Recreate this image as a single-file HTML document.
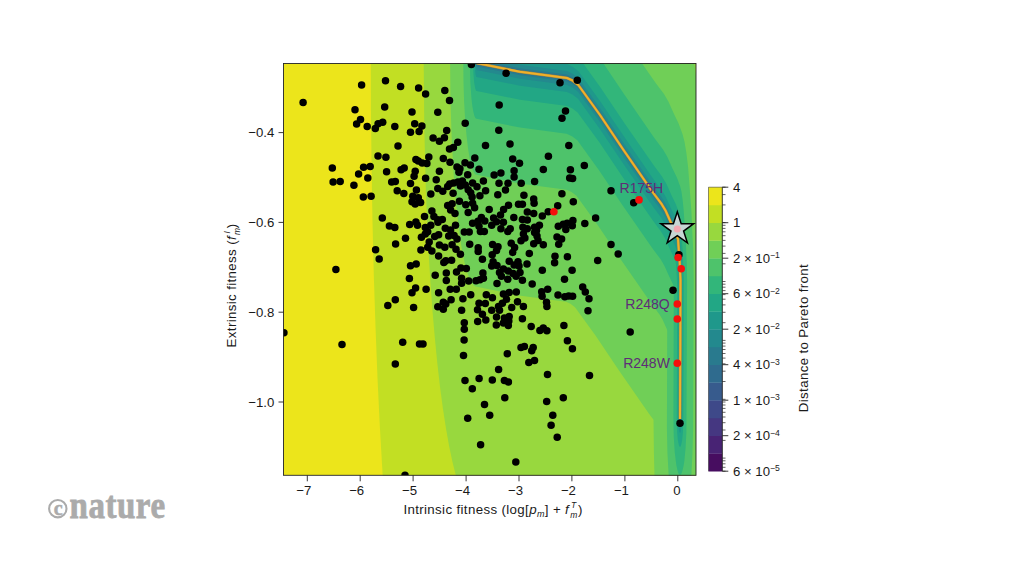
<!DOCTYPE html><html><head><meta charset="utf-8"><title>Pareto front</title>
<style>html,body{margin:0;padding:0;background:#fff}body{width:1024px;height:576px;overflow:hidden}svg{display:block}text{font-family:"Liberation Sans",sans-serif;fill:#1a1a1a}.t{font-size:13.2px}.lab{font-size:14px;fill:#5e2d78;letter-spacing:0px}</style></head><body>
<svg width="1024" height="576" viewBox="0 0 1024 576">
<rect width="1024" height="576" fill="#fff"/>
<defs><clipPath id="c"><rect x="283.5" y="63.5" width="412.5" height="411.8"/></clipPath></defs>
<g clip-path="url(#c)">
<rect x="283.5" y="63.5" width="412.5" height="411.8" fill="#ece51b"/>
<path d="M370.8,62.5 697.0,62.5 697.0,476.0 382.7,476.0 379.9,427.5 377.5,378.0 375.5,326.5 373.8,275.0 372.5,222.0 371.6,169.5 371.0,116.0 370.8,62.5Z" fill="#c2df23" fill-rule="evenodd"/>
<path d="M423.7,62.5 697.0,62.5 697.0,476.0 456.0,476.0 452.5,462.1 449.1,446.0 446.0,428.5 442.9,408.5 440.0,386.7 437.3,363.0 434.8,337.5 432.5,311.0 430.5,283.5 428.7,253.5 427.2,223.5 425.9,192.0 424.3,128.0 423.7,62.5Z" fill="#98d83e" fill-rule="evenodd"/>
<path d="M450.1,62.5 694.2,62.5 697.0,83.9 697.0,476.0 654.5,476.0 653.9,452.5 653.5,419.8 649.0,413.8 619.0,370.5 595.5,335.5 575.0,307.2 570.5,303.7 566.0,301.7 519.0,295.4 475.5,286.6 473.5,285.3 471.5,282.7 469.2,278.0 467.0,271.7 465.0,264.4 463.0,255.2 461.1,244.5 459.4,233.0 456.2,205.5 453.6,174.0 451.7,138.5 450.5,101.5 450.1,62.5Z" fill="#70cf57" fill-rule="evenodd"/>
<path d="M463.3,62.5 641.4,62.5 655.5,82.8 664.0,94.1 668.5,101.7 674.0,114.0 678.6,123.5 682.5,134.0 684.5,141.8 686.4,153.0 688.1,167.0 691.4,211.0 693.2,250.0 693.7,280.0 693.1,430.0 692.5,453.5 691.3,476.0 668.7,476.0 667.4,452.5 666.9,428.5 667.2,331.0 667.0,329.5 662.5,319.5 659.5,314.4 651.0,303.1 621.5,260.5 598.0,225.5 576.5,195.8 571.5,192.0 566.5,189.7 519.5,183.5 476.5,174.8 475.5,174.4 474.5,173.5 473.1,171.0 472.0,168.0 470.0,160.2 468.1,149.0 466.5,135.5 465.1,119.5 464.1,101.5 463.5,82.5 463.3,62.5Z" fill="#4ec36b" fill-rule="evenodd"/>
<path d="M469.9,62.5 602.8,62.5 625.0,95.5 654.0,137.4 663.0,149.5 667.4,157.0 672.5,168.5 677.0,177.8 680.2,186.5 681.5,191.7 682.6,199.5 683.6,209.5 685.6,237.5 686.7,261.5 687.1,281.0 686.4,432.5 685.6,448.0 684.3,461.5 683.5,466.3 682.5,470.6 681.5,473.4 680.5,474.7 680.0,474.8 679.5,474.7 678.5,473.4 677.5,470.5 676.3,465.0 674.7,452.0 673.7,435.5 673.4,418.5 673.8,288.0 673.3,285.0 669.0,276.1 664.5,265.9 660.5,259.1 652.0,247.8 622.5,205.2 599.0,170.2 577.5,140.5 577.0,140.1 572.0,136.2 566.5,133.8 520.0,127.6 476.5,118.8 475.5,118.2 474.5,116.2 473.4,112.0 472.4,106.5 471.5,99.0 470.3,82.0 469.9,62.5Z" fill="#32b67a" fill-rule="evenodd"/>
<path d="M473.2,62.5 582.5,62.5 600.5,87.4 624.5,123.2 653.5,165.0 662.0,176.4 666.5,183.9 671.5,195.2 676.0,204.4 679.5,214.2 680.7,222.5 682.7,251.5 683.8,279.0 683.3,422.5 682.9,432.5 682.2,440.0 681.0,445.6 680.5,446.6 680.0,446.9 679.5,446.6 679.0,445.6 677.9,440.5 677.2,433.0 676.7,423.5 677.2,285.5 676.5,271.6 676.0,264.5 675.5,261.6 674.0,257.6 670.0,249.4 665.0,238.2 661.0,231.5 652.5,220.1 623.3,178.0 599.5,142.6 577.6,112.5 572.5,108.5 567.0,105.9 520.0,99.7 476.5,90.9 476.0,90.6 475.2,88.5 474.2,82.5 473.4,73.0 473.2,62.5Z" fill="#22a785" fill-rule="evenodd"/>
<path d="M474.8,62.5 555.1,62.5 567.0,64.1 573.0,66.9 578.5,71.2 600.0,100.9 624.0,136.6 653.5,179.2 662.0,190.5 666.0,197.2 671.0,208.5 675.5,217.7 678.6,226.0 679.3,231.0 681.2,256.5 682.2,279.5 681.7,419.5 681.1,429.0 680.5,432.3 680.0,432.9 679.5,432.3 678.9,429.5 678.4,420.5 678.8,283.0 678.0,265.6 677.0,251.8 676.6,250.0 674.5,244.3 670.2,235.5 665.5,224.8 661.5,218.1 653.0,206.7 623.8,164.5 599.5,128.4 578.0,98.8 572.5,94.5 567.0,91.9 520.0,85.7 476.5,76.9 476.0,76.3 475.3,72.5 474.8,62.5Z" fill="#1f988b" fill-rule="evenodd"/>
<path d="M475.6,62.5 508.4,62.5 520.0,64.8 567.0,71.0 573.0,73.9 578.5,78.2 600.0,108.0 624.0,143.7 653.5,186.2 661.9,197.5 666.0,204.4 671.0,215.7 675.1,224.0 678.4,233.0 680.4,258.5 681.4,280.5 680.9,419.5 680.6,424.0 680.0,426.0 679.4,424.0 679.1,419.5 679.6,281.5 678.9,265.5 677.3,244.5 674.5,237.1 670.5,228.9 665.5,217.7 661.5,211.0 653.0,199.6 623.8,157.5 600.0,122.1 578.0,91.8 572.5,87.5 567.0,85.0 520.0,78.8 476.5,70.0 475.9,67.5 475.6,62.5Z" fill="#23898e" fill-rule="evenodd"/>
<path d="M476.0,62.5 491.2,62.5 520.0,68.3 567.0,74.5 573.0,77.4 578.5,81.7 599.7,111.0 623.5,146.5 653.0,189.0 661.6,200.5 665.8,207.5 671.0,219.2 675.0,227.5 678.0,235.4 678.4,238.0 679.9,257.5 681.0,280.0 680.5,419.0 680.0,422.5 679.5,419.0 680.0,279.5 679.0,259.5 677.5,241.3 675.0,234.6 670.3,225.0 665.5,214.1 661.5,207.5 653.3,196.5 623.8,154.0 600.0,118.5 578.0,88.3 572.5,84.0 567.0,81.5 520.0,75.3 477.5,66.7 476.5,66.5 476.1,64.5 476.0,62.5Z" fill="#297a8e" fill-rule="evenodd"/>
<path d="M476.2,62.5 482.6,62.5 520.0,70.1 567.0,76.2 572.5,78.7 578.0,83.0 599.8,113.0 624.0,149.0 653.5,191.5 661.7,202.5 665.9,209.5 670.5,219.9 675.3,230.0 677.8,236.5 678.5,239.0 678.0,242.3 677.5,239.5 675.0,232.8 670.7,224.0 666.0,213.4 662.0,206.5 652.7,194.0 623.6,152.0 600.0,116.8 578.0,86.5 572.5,82.3 567.0,79.8 520.0,73.5 476.5,64.8 476.0,63.0 476.2,62.5ZM678.3,243.0 678.5,242.6 678.9,246.0 678.5,249.2 678.1,246.0 678.3,243.0ZM678.8,250.0 679.0,249.5 679.4,253.0 679.0,256.1 678.6,253.0 678.8,250.0ZM679.4,256.5 679.9,259.5 679.5,263.1 679.1,259.5 679.4,256.5ZM679.9,264.5 680.4,269.0 680.0,273.9 679.6,269.0 679.9,264.5ZM680.4,275.5 681.0,280.0 680.5,351.1 680.0,280.0 680.4,275.5ZM680.0,372.0 680.5,419.0 680.0,420.8 679.5,419.0 680.0,372.0Z" fill="#2f6b8e" fill-rule="evenodd"/>
<path d="M476.5,63.0 L520,71.8 L567,78 L572.5,80.5 L578.3,85 L600,115 L623.5,150 L653.3,193 L661.7,204.2 L665.8,211.1 L670.7,222.2 L675,231 L678,239 L679.7,262.5 L680.5,280 L680.3,350 L680,419" fill="none" stroke="#a08a3c" stroke-width="2.9" stroke-linejoin="round" stroke-linecap="butt"/>
<path d="M476.5,63.0 L520,71.8 L567,78 L572.5,80.5 L578.3,85 L600,115 L623.5,150 L653.3,193 L661.7,204.2 L665.8,211.1 L670.7,222.2 L675,231 L678,239 L679.7,262.5 L680.5,280 L680.3,350 L680,419" fill="none" stroke="#f0b02a" stroke-width="2.0" stroke-linejoin="round" stroke-linecap="butt"/>
<g fill="#000">
<circle cx="303.1" cy="102.5" r="3.75"/>
<circle cx="361.6" cy="85.0" r="3.75"/>
<circle cx="385.5" cy="80.8" r="3.75"/>
<circle cx="400.6" cy="86.6" r="3.75"/>
<circle cx="418.6" cy="88.1" r="3.75"/>
<circle cx="425.6" cy="94.1" r="3.75"/>
<circle cx="355.0" cy="109.7" r="3.75"/>
<circle cx="384.7" cy="106.9" r="3.75"/>
<circle cx="412.0" cy="111.9" r="3.75"/>
<circle cx="437.8" cy="112.3" r="3.75"/>
<circle cx="360.5" cy="119.4" r="3.75"/>
<circle cx="356.6" cy="124.1" r="3.75"/>
<circle cx="367.2" cy="126.4" r="3.75"/>
<circle cx="382.7" cy="122.2" r="3.75"/>
<circle cx="378.1" cy="123.8" r="3.75"/>
<circle cx="375.3" cy="128.4" r="3.75"/>
<circle cx="394.8" cy="126.4" r="3.75"/>
<circle cx="414.7" cy="123.8" r="3.75"/>
<circle cx="421.9" cy="126.1" r="3.75"/>
<circle cx="419.1" cy="131.4" r="3.75"/>
<circle cx="410.5" cy="132.2" r="3.75"/>
<circle cx="433.1" cy="138.1" r="3.75"/>
<circle cx="439.4" cy="141.2" r="3.75"/>
<circle cx="398.0" cy="145.9" r="3.75"/>
<circle cx="378.0" cy="156.1" r="3.75"/>
<circle cx="385.9" cy="157.2" r="3.75"/>
<circle cx="332.3" cy="168.1" r="3.75"/>
<circle cx="363.6" cy="167.3" r="3.75"/>
<circle cx="370.2" cy="166.6" r="3.75"/>
<circle cx="358.6" cy="174.1" r="3.75"/>
<circle cx="367.8" cy="178.0" r="3.75"/>
<circle cx="333.1" cy="181.9" r="3.75"/>
<circle cx="340.2" cy="181.6" r="3.75"/>
<circle cx="353.9" cy="185.3" r="3.75"/>
<circle cx="363.3" cy="197.0" r="3.75"/>
<circle cx="371.1" cy="196.2" r="3.75"/>
<circle cx="386.6" cy="171.7" r="3.75"/>
<circle cx="401.1" cy="169.7" r="3.75"/>
<circle cx="404.2" cy="168.1" r="3.75"/>
<circle cx="428.8" cy="156.9" r="3.75"/>
<circle cx="415.9" cy="159.5" r="3.75"/>
<circle cx="418.3" cy="161.1" r="3.75"/>
<circle cx="422.2" cy="163.1" r="3.75"/>
<circle cx="426.9" cy="163.4" r="3.75"/>
<circle cx="415.2" cy="171.2" r="3.75"/>
<circle cx="414.1" cy="176.2" r="3.75"/>
<circle cx="425.6" cy="178.3" r="3.75"/>
<circle cx="436.2" cy="179.8" r="3.75"/>
<circle cx="439.4" cy="171.2" r="3.75"/>
<circle cx="391.7" cy="181.9" r="3.75"/>
<circle cx="395.3" cy="181.4" r="3.75"/>
<circle cx="410.5" cy="183.4" r="3.75"/>
<circle cx="397.2" cy="190.8" r="3.75"/>
<circle cx="403.8" cy="193.6" r="3.75"/>
<circle cx="416.4" cy="190.0" r="3.75"/>
<circle cx="430.8" cy="193.9" r="3.75"/>
<circle cx="437.8" cy="188.4" r="3.75"/>
<circle cx="412.8" cy="196.2" r="3.75"/>
<circle cx="418.3" cy="197.8" r="3.75"/>
<circle cx="412.0" cy="201.7" r="3.75"/>
<circle cx="420.6" cy="202.5" r="3.75"/>
<circle cx="415.2" cy="204.1" r="3.75"/>
<circle cx="382.3" cy="218.1" r="3.75"/>
<circle cx="424.5" cy="216.6" r="3.75"/>
<circle cx="431.9" cy="211.1" r="3.75"/>
<circle cx="433.9" cy="216.6" r="3.75"/>
<circle cx="437.8" cy="219.7" r="3.75"/>
<circle cx="389.4" cy="225.9" r="3.75"/>
<circle cx="394.8" cy="227.5" r="3.75"/>
<circle cx="409.7" cy="224.4" r="3.75"/>
<circle cx="415.9" cy="222.0" r="3.75"/>
<circle cx="417.5" cy="225.2" r="3.75"/>
<circle cx="425.3" cy="227.5" r="3.75"/>
<circle cx="430.8" cy="225.2" r="3.75"/>
<circle cx="335.9" cy="269.4" r="3.75"/>
<circle cx="375.6" cy="249.7" r="3.75"/>
<circle cx="379.2" cy="259.1" r="3.75"/>
<circle cx="395.6" cy="243.9" r="3.75"/>
<circle cx="405.5" cy="238.3" r="3.75"/>
<circle cx="427.7" cy="231.7" r="3.75"/>
<circle cx="421.4" cy="237.2" r="3.75"/>
<circle cx="425.3" cy="234.1" r="3.75"/>
<circle cx="434.7" cy="236.4" r="3.75"/>
<circle cx="438.6" cy="234.8" r="3.75"/>
<circle cx="429.2" cy="241.9" r="3.75"/>
<circle cx="427.7" cy="247.3" r="3.75"/>
<circle cx="420.9" cy="250.0" r="3.75"/>
<circle cx="431.9" cy="250.9" r="3.75"/>
<circle cx="438.6" cy="255.9" r="3.75"/>
<circle cx="410.5" cy="265.8" r="3.75"/>
<circle cx="416.2" cy="264.1" r="3.75"/>
<circle cx="409.4" cy="278.6" r="3.75"/>
<circle cx="435.2" cy="275.2" r="3.75"/>
<circle cx="415.6" cy="288.0" r="3.75"/>
<circle cx="412.0" cy="292.7" r="3.75"/>
<circle cx="426.1" cy="289.2" r="3.75"/>
<circle cx="438.6" cy="292.7" r="3.75"/>
<circle cx="395.3" cy="299.7" r="3.75"/>
<circle cx="387.8" cy="305.6" r="3.75"/>
<circle cx="413.6" cy="307.5" r="3.75"/>
<circle cx="437.8" cy="306.7" r="3.75"/>
<circle cx="439.4" cy="245.0" r="3.75"/>
<circle cx="283.9" cy="332.8" r="3.75"/>
<circle cx="342.0" cy="344.5" r="3.75"/>
<circle cx="402.7" cy="342.2" r="3.75"/>
<circle cx="419.5" cy="344.1" r="3.75"/>
<circle cx="423.0" cy="344.1" r="3.75"/>
<circle cx="395.3" cy="364.1" r="3.75"/>
<circle cx="405" cy="475.2" r="3.75"/>
<circle cx="471.4" cy="64.4" r="3.75"/>
<circle cx="506.1" cy="73.3" r="3.75"/>
<circle cx="560.0" cy="82.7" r="3.75"/>
<circle cx="577.3" cy="80.3" r="3.75"/>
<circle cx="444.8" cy="90.5" r="3.75"/>
<circle cx="449.5" cy="100.6" r="3.75"/>
<circle cx="499.2" cy="105.0" r="3.75"/>
<circle cx="565.5" cy="111.1" r="3.75"/>
<circle cx="562.0" cy="118.3" r="3.75"/>
<circle cx="465.2" cy="123.3" r="3.75"/>
<circle cx="446.7" cy="130.6" r="3.75"/>
<circle cx="498.8" cy="130.3" r="3.75"/>
<circle cx="444.4" cy="137.7" r="3.75"/>
<circle cx="457.8" cy="142.3" r="3.75"/>
<circle cx="453.4" cy="147.5" r="3.75"/>
<circle cx="449.5" cy="149.1" r="3.75"/>
<circle cx="485.5" cy="145.6" r="3.75"/>
<circle cx="510.0" cy="144.1" r="3.75"/>
<circle cx="568.8" cy="145.6" r="3.75"/>
<circle cx="443.3" cy="158.6" r="3.75"/>
<circle cx="450.0" cy="162.3" r="3.75"/>
<circle cx="474.8" cy="158.1" r="3.75"/>
<circle cx="465.0" cy="162.7" r="3.75"/>
<circle cx="470.4" cy="165.1" r="3.75"/>
<circle cx="512.7" cy="159.0" r="3.75"/>
<circle cx="519.5" cy="163.2" r="3.75"/>
<circle cx="457.0" cy="166.9" r="3.75"/>
<circle cx="459.9" cy="168.8" r="3.75"/>
<circle cx="458.9" cy="172.2" r="3.75"/>
<circle cx="467.7" cy="174.7" r="3.75"/>
<circle cx="479.0" cy="169.3" r="3.75"/>
<circle cx="494.1" cy="175.0" r="3.75"/>
<circle cx="500.9" cy="172.9" r="3.75"/>
<circle cx="514.1" cy="170.8" r="3.75"/>
<circle cx="514.1" cy="176.9" r="3.75"/>
<circle cx="483.4" cy="181.0" r="3.75"/>
<circle cx="499.0" cy="183.2" r="3.75"/>
<circle cx="508.0" cy="183.2" r="3.75"/>
<circle cx="521.2" cy="183.2" r="3.75"/>
<circle cx="534.6" cy="181.5" r="3.75"/>
<circle cx="449.7" cy="183.9" r="3.75"/>
<circle cx="453.6" cy="183.0" r="3.75"/>
<circle cx="458.0" cy="182.0" r="3.75"/>
<circle cx="462.4" cy="181.0" r="3.75"/>
<circle cx="460.4" cy="185.9" r="3.75"/>
<circle cx="465.3" cy="184.9" r="3.75"/>
<circle cx="447.7" cy="186.4" r="3.75"/>
<circle cx="472.6" cy="183.0" r="3.75"/>
<circle cx="477.0" cy="186.7" r="3.75"/>
<circle cx="442.8" cy="191.3" r="3.75"/>
<circle cx="453.1" cy="193.2" r="3.75"/>
<circle cx="468.2" cy="189.8" r="3.75"/>
<circle cx="470.7" cy="192.7" r="3.75"/>
<circle cx="485.6" cy="190.8" r="3.75"/>
<circle cx="505.5" cy="190.0" r="3.75"/>
<circle cx="497.8" cy="194.7" r="3.75"/>
<circle cx="523.9" cy="195.2" r="3.75"/>
<circle cx="479.9" cy="195.7" r="3.75"/>
<circle cx="548.4" cy="156.3" r="3.75"/>
<circle cx="543.3" cy="169.5" r="3.75"/>
<circle cx="584.3" cy="165.4" r="3.75"/>
<circle cx="570.4" cy="169.8" r="3.75"/>
<circle cx="569.7" cy="178.1" r="3.75"/>
<circle cx="572.6" cy="178.6" r="3.75"/>
<circle cx="561.9" cy="193.7" r="3.75"/>
<circle cx="611.0" cy="190.8" r="3.75"/>
<circle cx="472.1" cy="196.9" r="3.75"/>
<circle cx="533.7" cy="198.9" r="3.75"/>
<circle cx="534.1" cy="203.3" r="3.75"/>
<circle cx="459.4" cy="201.3" r="3.75"/>
<circle cx="452.1" cy="203.8" r="3.75"/>
<circle cx="447.7" cy="205.5" r="3.75"/>
<circle cx="450.6" cy="210.1" r="3.75"/>
<circle cx="455.0" cy="213.5" r="3.75"/>
<circle cx="465.8" cy="204.7" r="3.75"/>
<circle cx="472.6" cy="203.3" r="3.75"/>
<circle cx="474.6" cy="207.7" r="3.75"/>
<circle cx="468.2" cy="212.6" r="3.75"/>
<circle cx="489.2" cy="209.6" r="3.75"/>
<circle cx="508.5" cy="205.2" r="3.75"/>
<circle cx="503.6" cy="209.6" r="3.75"/>
<circle cx="518.5" cy="204.3" r="3.75"/>
<circle cx="522.4" cy="204.3" r="3.75"/>
<circle cx="527.3" cy="212.1" r="3.75"/>
<circle cx="533.7" cy="213.5" r="3.75"/>
<circle cx="513.8" cy="217.6" r="3.75"/>
<circle cx="500.5" cy="215.0" r="3.75"/>
<circle cx="493.6" cy="217.9" r="3.75"/>
<circle cx="481.4" cy="217.4" r="3.75"/>
<circle cx="442.3" cy="219.4" r="3.75"/>
<circle cx="438.0" cy="222.3" r="3.75"/>
<circle cx="522.4" cy="219.6" r="3.75"/>
<circle cx="527.3" cy="219.9" r="3.75"/>
<circle cx="472.6" cy="223.3" r="3.75"/>
<circle cx="478.0" cy="221.3" r="3.75"/>
<circle cx="484.8" cy="220.9" r="3.75"/>
<circle cx="479.0" cy="226.2" r="3.75"/>
<circle cx="491.7" cy="225.2" r="3.75"/>
<circle cx="496.5" cy="221.8" r="3.75"/>
<circle cx="503.4" cy="222.3" r="3.75"/>
<circle cx="500.9" cy="228.7" r="3.75"/>
<circle cx="510.2" cy="228.7" r="3.75"/>
<circle cx="507.8" cy="231.6" r="3.75"/>
<circle cx="522.9" cy="227.2" r="3.75"/>
<circle cx="527.3" cy="228.7" r="3.75"/>
<circle cx="534.6" cy="227.2" r="3.75"/>
<circle cx="534.6" cy="232.6" r="3.75"/>
<circle cx="455.5" cy="225.2" r="3.75"/>
<circle cx="445.3" cy="228.2" r="3.75"/>
<circle cx="450.6" cy="230.1" r="3.75"/>
<circle cx="464.3" cy="231.9" r="3.75"/>
<circle cx="469.2" cy="231.9" r="3.75"/>
<circle cx="480.4" cy="231.6" r="3.75"/>
<circle cx="484.3" cy="231.6" r="3.75"/>
<circle cx="448.7" cy="236.0" r="3.75"/>
<circle cx="454.1" cy="235.5" r="3.75"/>
<circle cx="457.0" cy="238.9" r="3.75"/>
<circle cx="523.4" cy="234.0" r="3.75"/>
<circle cx="524.9" cy="237.9" r="3.75"/>
<circle cx="521.0" cy="240.7" r="3.75"/>
<circle cx="533.7" cy="243.8" r="3.75"/>
<circle cx="444.8" cy="247.2" r="3.75"/>
<circle cx="452.1" cy="244.8" r="3.75"/>
<circle cx="469.7" cy="244.3" r="3.75"/>
<circle cx="478.2" cy="247.7" r="3.75"/>
<circle cx="492.6" cy="244.6" r="3.75"/>
<circle cx="498.0" cy="246.7" r="3.75"/>
<circle cx="511.2" cy="243.3" r="3.75"/>
<circle cx="514.6" cy="247.5" r="3.75"/>
<circle cx="456.0" cy="249.2" r="3.75"/>
<circle cx="573.3" cy="201.8" r="3.75"/>
<circle cx="557.7" cy="205.7" r="3.75"/>
<circle cx="548.2" cy="211.8" r="3.75"/>
<circle cx="542.3" cy="216.0" r="3.75"/>
<circle cx="595.6" cy="217.9" r="3.75"/>
<circle cx="584.8" cy="223.6" r="3.75"/>
<circle cx="572.9" cy="220.4" r="3.75"/>
<circle cx="567.2" cy="223.3" r="3.75"/>
<circle cx="563.3" cy="224.3" r="3.75"/>
<circle cx="558.3" cy="226.2" r="3.75"/>
<circle cx="572.3" cy="225.7" r="3.75"/>
<circle cx="565.8" cy="229.6" r="3.75"/>
<circle cx="539.4" cy="225.2" r="3.75"/>
<circle cx="536.5" cy="230.6" r="3.75"/>
<circle cx="537.0" cy="236.0" r="3.75"/>
<circle cx="557.0" cy="237.0" r="3.75"/>
<circle cx="561.6" cy="239.1" r="3.75"/>
<circle cx="558.7" cy="244.3" r="3.75"/>
<circle cx="538.0" cy="240.4" r="3.75"/>
<circle cx="543.3" cy="244.8" r="3.75"/>
<circle cx="611.0" cy="244.6" r="3.75"/>
<circle cx="633.7" cy="202.8" r="3.75"/>
<circle cx="460.4" cy="254.3" r="3.75"/>
<circle cx="445.8" cy="260.7" r="3.75"/>
<circle cx="451.6" cy="260.2" r="3.75"/>
<circle cx="443.8" cy="262.6" r="3.75"/>
<circle cx="478.2" cy="251.4" r="3.75"/>
<circle cx="482.4" cy="259.2" r="3.75"/>
<circle cx="496.5" cy="250.4" r="3.75"/>
<circle cx="492.2" cy="254.8" r="3.75"/>
<circle cx="493.1" cy="261.7" r="3.75"/>
<circle cx="491.7" cy="266.1" r="3.75"/>
<circle cx="497.0" cy="265.6" r="3.75"/>
<circle cx="512.7" cy="252.4" r="3.75"/>
<circle cx="529.3" cy="253.4" r="3.75"/>
<circle cx="509.2" cy="261.2" r="3.75"/>
<circle cx="518.0" cy="261.7" r="3.75"/>
<circle cx="514.1" cy="265.1" r="3.75"/>
<circle cx="519.0" cy="266.1" r="3.75"/>
<circle cx="527.0" cy="264.1" r="3.75"/>
<circle cx="503.4" cy="269.0" r="3.75"/>
<circle cx="508.3" cy="270.9" r="3.75"/>
<circle cx="499.5" cy="272.4" r="3.75"/>
<circle cx="501.4" cy="276.3" r="3.75"/>
<circle cx="507.8" cy="279.2" r="3.75"/>
<circle cx="513.1" cy="273.4" r="3.75"/>
<circle cx="520.0" cy="272.4" r="3.75"/>
<circle cx="516.1" cy="276.3" r="3.75"/>
<circle cx="522.4" cy="280.2" r="3.75"/>
<circle cx="532.2" cy="283.9" r="3.75"/>
<circle cx="497.0" cy="283.4" r="3.75"/>
<circle cx="460.9" cy="268.0" r="3.75"/>
<circle cx="466.3" cy="268.5" r="3.75"/>
<circle cx="456.5" cy="271.9" r="3.75"/>
<circle cx="446.3" cy="272.9" r="3.75"/>
<circle cx="446.3" cy="280.5" r="3.75"/>
<circle cx="461.6" cy="278.3" r="3.75"/>
<circle cx="461.6" cy="283.2" r="3.75"/>
<circle cx="468.7" cy="281.0" r="3.75"/>
<circle cx="476.0" cy="280.7" r="3.75"/>
<circle cx="482.9" cy="272.9" r="3.75"/>
<circle cx="483.4" cy="278.3" r="3.75"/>
<circle cx="479.9" cy="279.7" r="3.75"/>
<circle cx="450.2" cy="289.2" r="3.75"/>
<circle cx="456.3" cy="289.2" r="3.75"/>
<circle cx="470.7" cy="294.7" r="3.75"/>
<circle cx="462.9" cy="298.8" r="3.75"/>
<circle cx="451.1" cy="299.8" r="3.75"/>
<circle cx="443.3" cy="302.2" r="3.75"/>
<circle cx="486.3" cy="294.7" r="3.75"/>
<circle cx="492.4" cy="297.8" r="3.75"/>
<circle cx="503.4" cy="293.9" r="3.75"/>
<circle cx="509.2" cy="292.4" r="3.75"/>
<circle cx="516.3" cy="291.9" r="3.75"/>
<circle cx="506.5" cy="299.3" r="3.75"/>
<circle cx="517.5" cy="301.7" r="3.75"/>
<circle cx="479.0" cy="303.2" r="3.75"/>
<circle cx="485.3" cy="303.5" r="3.75"/>
<circle cx="502.4" cy="303.2" r="3.75"/>
<circle cx="555.0" cy="256.3" r="3.75"/>
<circle cx="554.6" cy="262.8" r="3.75"/>
<circle cx="567.4" cy="256.8" r="3.75"/>
<circle cx="542.3" cy="270.3" r="3.75"/>
<circle cx="572.1" cy="270.3" r="3.75"/>
<circle cx="597.7" cy="260.5" r="3.75"/>
<circle cx="618.2" cy="253.9" r="3.75"/>
<circle cx="564.5" cy="279.2" r="3.75"/>
<circle cx="547.7" cy="289.3" r="3.75"/>
<circle cx="541.7" cy="291.8" r="3.75"/>
<circle cx="542.1" cy="296.3" r="3.75"/>
<circle cx="558.0" cy="294.9" r="3.75"/>
<circle cx="564.8" cy="296.8" r="3.75"/>
<circle cx="568.7" cy="296.0" r="3.75"/>
<circle cx="572.6" cy="296.3" r="3.75"/>
<circle cx="582.7" cy="287.1" r="3.75"/>
<circle cx="585.3" cy="291.9" r="3.75"/>
<circle cx="589.0" cy="298.8" r="3.75"/>
<circle cx="546.5" cy="302.2" r="3.75"/>
<circle cx="443.3" cy="309.3" r="3.75"/>
<circle cx="445.8" cy="304.0" r="3.75"/>
<circle cx="461.6" cy="310.3" r="3.75"/>
<circle cx="477.5" cy="309.8" r="3.75"/>
<circle cx="482.4" cy="314.2" r="3.75"/>
<circle cx="485.8" cy="320.1" r="3.75"/>
<circle cx="477.7" cy="321.5" r="3.75"/>
<circle cx="491.7" cy="310.3" r="3.75"/>
<circle cx="498.5" cy="306.4" r="3.75"/>
<circle cx="499.5" cy="310.3" r="3.75"/>
<circle cx="496.5" cy="317.1" r="3.75"/>
<circle cx="511.7" cy="307.4" r="3.75"/>
<circle cx="523.4" cy="306.4" r="3.75"/>
<circle cx="509.2" cy="316.6" r="3.75"/>
<circle cx="504.4" cy="318.1" r="3.75"/>
<circle cx="508.8" cy="321.0" r="3.75"/>
<circle cx="503.4" cy="323.0" r="3.75"/>
<circle cx="508.3" cy="325.4" r="3.75"/>
<circle cx="496.3" cy="324.9" r="3.75"/>
<circle cx="522.4" cy="318.8" r="3.75"/>
<circle cx="531.2" cy="326.4" r="3.75"/>
<circle cx="464.3" cy="322.7" r="3.75"/>
<circle cx="464.3" cy="329.3" r="3.75"/>
<circle cx="464.1" cy="340.1" r="3.75"/>
<circle cx="463.5" cy="355.5" r="3.75"/>
<circle cx="507.3" cy="353.8" r="3.75"/>
<circle cx="521.0" cy="347.4" r="3.75"/>
<circle cx="524.4" cy="346.4" r="3.75"/>
<circle cx="533.2" cy="347.4" r="3.75"/>
<circle cx="531.7" cy="350.8" r="3.75"/>
<circle cx="546.9" cy="306.4" r="3.75"/>
<circle cx="588.0" cy="310.8" r="3.75"/>
<circle cx="563.9" cy="325.4" r="3.75"/>
<circle cx="539.9" cy="330.5" r="3.75"/>
<circle cx="543.3" cy="327.9" r="3.75"/>
<circle cx="546.9" cy="330.8" r="3.75"/>
<circle cx="567.4" cy="340.8" r="3.75"/>
<circle cx="572.4" cy="348.7" r="3.75"/>
<circle cx="630.2" cy="332.0" r="3.75"/>
<circle cx="534.5" cy="360.6" r="3.75"/>
<circle cx="528.8" cy="362.5" r="3.75"/>
<circle cx="498.6" cy="369.5" r="3.75"/>
<circle cx="465.0" cy="380.5" r="3.75"/>
<circle cx="479.1" cy="378.4" r="3.75"/>
<circle cx="492.3" cy="380.0" r="3.75"/>
<circle cx="504.4" cy="380.5" r="3.75"/>
<circle cx="508.4" cy="382.0" r="3.75"/>
<circle cx="472.3" cy="388.8" r="3.75"/>
<circle cx="547.5" cy="374.5" r="3.75"/>
<circle cx="589.5" cy="375.5" r="3.75"/>
<circle cx="504.8" cy="397.8" r="3.75"/>
<circle cx="484.5" cy="404.4" r="3.75"/>
<circle cx="489.7" cy="415.3" r="3.75"/>
<circle cx="467.7" cy="418.3" r="3.75"/>
<circle cx="546.7" cy="401.6" r="3.75"/>
<circle cx="563.3" cy="397.8" r="3.75"/>
<circle cx="552.8" cy="415.3" r="3.75"/>
<circle cx="551.1" cy="425.3" r="3.75"/>
<circle cx="557.2" cy="437.2" r="3.75"/>
<circle cx="480.6" cy="444.8" r="3.75"/>
<circle cx="515.8" cy="462.0" r="3.75"/>
<circle cx="678.9" cy="254.7" r="3.75"/>
<circle cx="673" cy="290.3" r="3.75"/>
<circle cx="680" cy="423.3" r="3.75"/>
</g>
</g>
<g fill="#f5100c">
<circle cx="639" cy="199.9" r="3.8"/>
<circle cx="678.1" cy="257.5" r="3.8"/>
<circle cx="681.2" cy="268.7" r="3.8"/>
<circle cx="677.3" cy="304" r="3.8"/>
<circle cx="677.3" cy="319" r="3.8"/>
<circle cx="677.3" cy="363.3" r="3.8"/>
<circle cx="553.9" cy="211.8" r="3.8"/>
</g>
<polygon points="677.30,211.75 681.17,223.67 693.71,223.67 683.57,231.04 687.44,242.96 677.30,235.59 667.16,242.96 671.03,231.04 660.89,223.67 673.43,223.67" fill="#c6d6d4" stroke="#000" stroke-width="1.45" stroke-linejoin="miter"/>
<circle cx="677.3" cy="229.0" r="3.6" fill="#f3a9b3"/>
<text class="lab" x="619.6" y="193">R175H</text>
<text class="lab" x="625.3" y="309.2">R248Q</text>
<text class="lab" x="623.2" y="368.2">R248W</text>
<rect x="283.5" y="63.5" width="412.5" height="411.8" fill="none" stroke="#222" stroke-width="0.9"/>
<line x1="307.3" y1="475.3" x2="307.3" y2="481.3" stroke="#222" stroke-width="0.9"/>
<text class="t" x="303.8" y="495" text-anchor="middle">−7</text>
<line x1="360.2" y1="475.3" x2="360.2" y2="481.3" stroke="#222" stroke-width="0.9"/>
<text class="t" x="356.7" y="495" text-anchor="middle">−6</text>
<line x1="413.1" y1="475.3" x2="413.1" y2="481.3" stroke="#222" stroke-width="0.9"/>
<text class="t" x="409.6" y="495" text-anchor="middle">−5</text>
<line x1="466.1" y1="475.3" x2="466.1" y2="481.3" stroke="#222" stroke-width="0.9"/>
<text class="t" x="462.6" y="495" text-anchor="middle">−4</text>
<line x1="519.0" y1="475.3" x2="519.0" y2="481.3" stroke="#222" stroke-width="0.9"/>
<text class="t" x="515.5" y="495" text-anchor="middle">−3</text>
<line x1="571.9" y1="475.3" x2="571.9" y2="481.3" stroke="#222" stroke-width="0.9"/>
<text class="t" x="568.4" y="495" text-anchor="middle">−2</text>
<line x1="624.9" y1="475.3" x2="624.9" y2="481.3" stroke="#222" stroke-width="0.9"/>
<text class="t" x="621.4" y="495" text-anchor="middle">−1</text>
<line x1="677.8" y1="475.3" x2="677.8" y2="481.3" stroke="#222" stroke-width="0.9"/>
<text class="t" x="676.9" y="495" text-anchor="middle">0</text>
<line x1="278.5" y1="132.6" x2="283.5" y2="132.6" stroke="#222" stroke-width="0.9"/>
<text class="t" x="274.3" y="137.2" text-anchor="end">−0.4</text>
<line x1="278.5" y1="222.4" x2="283.5" y2="222.4" stroke="#222" stroke-width="0.9"/>
<text class="t" x="274.3" y="227.0" text-anchor="end">−0.6</text>
<line x1="278.5" y1="312.2" x2="283.5" y2="312.2" stroke="#222" stroke-width="0.9"/>
<text class="t" x="274.3" y="316.8" text-anchor="end">−0.8</text>
<line x1="278.5" y1="402.0" x2="283.5" y2="402.0" stroke="#222" stroke-width="0.9"/>
<text class="t" x="274.3" y="406.6" text-anchor="end">−1.0</text>
<text id="xl" x="403.4" y="514.1" style="font-size:13.3px;letter-spacing:0.36px">Intrinsic fitness (log[<tspan font-style="italic">p</tspan><tspan font-style="italic" dy="3" style="font-size:9px">m</tspan><tspan dy="-3">] + </tspan><tspan font-style="italic">f</tspan><tspan font-style="italic" dy="3.5" dx="1" style="font-size:8.5px">m</tspan><tspan font-style="italic" dy="-9.5" dx="-6.5" style="font-size:8.5px">T</tspan><tspan dy="6" dx="1.2">)</tspan></text>
<text id="yl" transform="translate(236.4,347.4) rotate(-90)" style="font-size:13.3px;letter-spacing:0.36px">Extrinsic fitness (<tspan font-style="italic">f</tspan><tspan font-style="italic" dy="3.5" dx="1" style="font-size:8.5px">m</tspan><tspan font-style="italic" dy="-9.5" dx="-6" style="font-size:8.5px">I</tspan><tspan dy="6" dx="2.5">)</tspan></text>
<rect x="708.5" y="453.45" width="13.8" height="18.05" fill="#470d60"/>
<rect x="708.5" y="435.70" width="13.8" height="18.05" fill="#482374"/>
<rect x="708.5" y="417.95" width="13.8" height="18.05" fill="#453781"/>
<rect x="708.5" y="400.20" width="13.8" height="18.05" fill="#3e4989"/>
<rect x="708.5" y="382.45" width="13.8" height="18.05" fill="#375b8d"/>
<rect x="708.5" y="364.70" width="13.8" height="18.05" fill="#2f6b8e"/>
<rect x="708.5" y="346.95" width="13.8" height="18.05" fill="#297a8e"/>
<rect x="708.5" y="329.20" width="13.8" height="18.05" fill="#23898e"/>
<rect x="708.5" y="311.45" width="13.8" height="18.05" fill="#1f988b"/>
<rect x="708.5" y="293.70" width="13.8" height="18.05" fill="#22a785"/>
<rect x="708.5" y="275.95" width="13.8" height="18.05" fill="#32b67a"/>
<rect x="708.5" y="258.20" width="13.8" height="18.05" fill="#4ec36b"/>
<rect x="708.5" y="240.45" width="13.8" height="18.05" fill="#70cf57"/>
<rect x="708.5" y="222.70" width="13.8" height="18.05" fill="#98d83e"/>
<rect x="708.5" y="204.95" width="13.8" height="18.05" fill="#c2df23"/>
<rect x="708.5" y="187.20" width="13.8" height="18.05" fill="#ece51b"/>
<path d="M708.5,471.2 V187.2 H722.3" fill="none" stroke="#222" stroke-width="0.5"/>
<line x1="722.3" y1="187.2" x2="722.3" y2="471.2" stroke="#222" stroke-width="0.9"/>
<line x1="722.3" y1="187.2" x2="728.3" y2="187.2" stroke="#222" stroke-width="0.9"/>
<text class="t" x="733" y="191.8">4</text>
<line x1="722.3" y1="222.7" x2="728.3" y2="222.7" stroke="#222" stroke-width="0.9"/>
<text class="t" x="733" y="227.3">1</text>
<line x1="722.3" y1="258.2" x2="728.3" y2="258.2" stroke="#222" stroke-width="0.9"/>
<text class="t" x="733" y="262.8">2 × 10<tspan dy="-4.5" style="font-size:8.6px">−1</tspan></text>
<line x1="722.3" y1="293.7" x2="728.3" y2="293.7" stroke="#222" stroke-width="0.9"/>
<text class="t" x="733" y="298.3">6 × 10<tspan dy="-4.5" style="font-size:8.6px">−2</tspan></text>
<line x1="722.3" y1="329.2" x2="728.3" y2="329.2" stroke="#222" stroke-width="0.9"/>
<text class="t" x="733" y="333.8">2 × 10<tspan dy="-4.5" style="font-size:8.6px">−2</tspan></text>
<line x1="722.3" y1="364.7" x2="728.3" y2="364.7" stroke="#222" stroke-width="0.9"/>
<text class="t" x="733" y="369.3">4 × 10<tspan dy="-4.5" style="font-size:8.6px">−3</tspan></text>
<line x1="722.3" y1="400.2" x2="728.3" y2="400.2" stroke="#222" stroke-width="0.9"/>
<text class="t" x="733" y="404.8">1 × 10<tspan dy="-4.5" style="font-size:8.6px">−3</tspan></text>
<line x1="722.3" y1="435.7" x2="728.3" y2="435.7" stroke="#222" stroke-width="0.9"/>
<text class="t" x="733" y="440.3">2 × 10<tspan dy="-4.5" style="font-size:8.6px">−4</tspan></text>
<line x1="722.3" y1="471.2" x2="728.3" y2="471.2" stroke="#222" stroke-width="0.9"/>
<text class="t" x="733" y="475.8">6 × 10<tspan dy="-4.5" style="font-size:8.6px">−5</tspan></text>
<line x1="722.3" y1="471.2" x2="725.5" y2="471.2" stroke="#222" stroke-width="0.7"/>
<line x1="722.3" y1="467.3" x2="725.5" y2="467.3" stroke="#222" stroke-width="0.7"/>
<line x1="722.3" y1="463.8" x2="725.5" y2="463.8" stroke="#222" stroke-width="0.7"/>
<line x1="722.3" y1="460.8" x2="725.5" y2="460.8" stroke="#222" stroke-width="0.7"/>
<line x1="722.3" y1="458.1" x2="725.5" y2="458.1" stroke="#222" stroke-width="0.7"/>
<line x1="722.3" y1="440.4" x2="725.5" y2="440.4" stroke="#222" stroke-width="0.7"/>
<line x1="722.3" y1="430.0" x2="725.5" y2="430.0" stroke="#222" stroke-width="0.7"/>
<line x1="722.3" y1="422.7" x2="725.5" y2="422.7" stroke="#222" stroke-width="0.7"/>
<line x1="722.3" y1="417.0" x2="725.5" y2="417.0" stroke="#222" stroke-width="0.7"/>
<line x1="722.3" y1="412.3" x2="725.5" y2="412.3" stroke="#222" stroke-width="0.7"/>
<line x1="722.3" y1="408.4" x2="725.5" y2="408.4" stroke="#222" stroke-width="0.7"/>
<line x1="722.3" y1="405.0" x2="725.5" y2="405.0" stroke="#222" stroke-width="0.7"/>
<line x1="722.3" y1="402.0" x2="725.5" y2="402.0" stroke="#222" stroke-width="0.7"/>
<line x1="722.3" y1="399.3" x2="725.5" y2="399.3" stroke="#222" stroke-width="0.7"/>
<line x1="722.3" y1="381.5" x2="725.5" y2="381.5" stroke="#222" stroke-width="0.7"/>
<line x1="722.3" y1="371.2" x2="725.5" y2="371.2" stroke="#222" stroke-width="0.7"/>
<line x1="722.3" y1="363.8" x2="725.5" y2="363.8" stroke="#222" stroke-width="0.7"/>
<line x1="722.3" y1="358.1" x2="725.5" y2="358.1" stroke="#222" stroke-width="0.7"/>
<line x1="722.3" y1="353.5" x2="725.5" y2="353.5" stroke="#222" stroke-width="0.7"/>
<line x1="722.3" y1="349.5" x2="725.5" y2="349.5" stroke="#222" stroke-width="0.7"/>
<line x1="722.3" y1="346.1" x2="725.5" y2="346.1" stroke="#222" stroke-width="0.7"/>
<line x1="722.3" y1="343.1" x2="725.5" y2="343.1" stroke="#222" stroke-width="0.7"/>
<line x1="722.3" y1="340.4" x2="725.5" y2="340.4" stroke="#222" stroke-width="0.7"/>
<line x1="722.3" y1="322.7" x2="725.5" y2="322.7" stroke="#222" stroke-width="0.7"/>
<line x1="722.3" y1="312.3" x2="725.5" y2="312.3" stroke="#222" stroke-width="0.7"/>
<line x1="722.3" y1="304.9" x2="725.5" y2="304.9" stroke="#222" stroke-width="0.7"/>
<line x1="722.3" y1="299.2" x2="725.5" y2="299.2" stroke="#222" stroke-width="0.7"/>
<line x1="722.3" y1="294.6" x2="725.5" y2="294.6" stroke="#222" stroke-width="0.7"/>
<line x1="722.3" y1="290.6" x2="725.5" y2="290.6" stroke="#222" stroke-width="0.7"/>
<line x1="722.3" y1="287.2" x2="725.5" y2="287.2" stroke="#222" stroke-width="0.7"/>
<line x1="722.3" y1="284.2" x2="725.5" y2="284.2" stroke="#222" stroke-width="0.7"/>
<line x1="722.3" y1="281.5" x2="725.5" y2="281.5" stroke="#222" stroke-width="0.7"/>
<line x1="722.3" y1="263.8" x2="725.5" y2="263.8" stroke="#222" stroke-width="0.7"/>
<line x1="722.3" y1="253.4" x2="725.5" y2="253.4" stroke="#222" stroke-width="0.7"/>
<line x1="722.3" y1="246.1" x2="725.5" y2="246.1" stroke="#222" stroke-width="0.7"/>
<line x1="722.3" y1="240.4" x2="725.5" y2="240.4" stroke="#222" stroke-width="0.7"/>
<line x1="722.3" y1="235.7" x2="725.5" y2="235.7" stroke="#222" stroke-width="0.7"/>
<line x1="722.3" y1="231.8" x2="725.5" y2="231.8" stroke="#222" stroke-width="0.7"/>
<line x1="722.3" y1="228.4" x2="725.5" y2="228.4" stroke="#222" stroke-width="0.7"/>
<line x1="722.3" y1="225.3" x2="725.5" y2="225.3" stroke="#222" stroke-width="0.7"/>
<line x1="722.3" y1="222.6" x2="725.5" y2="222.6" stroke="#222" stroke-width="0.7"/>
<line x1="722.3" y1="204.9" x2="725.5" y2="204.9" stroke="#222" stroke-width="0.7"/>
<line x1="722.3" y1="194.6" x2="725.5" y2="194.6" stroke="#222" stroke-width="0.7"/>
<line x1="722.3" y1="187.2" x2="725.5" y2="187.2" stroke="#222" stroke-width="0.7"/>
<text id="cl" transform="translate(807.7,412.2) rotate(-90)" style="font-size:13.3px;letter-spacing:0.36px">Distance to Pareto front</text>
<g fill="#ababab"><circle cx="57.8" cy="508.7" r="8.7" fill="none" stroke="#ababab" stroke-width="2.1"/><text x="58.2" y="514.6" text-anchor="middle" style="font-family:'Liberation Serif',serif;font-weight:bold;font-size:20px;fill:#ababab;stroke:#ababab;stroke-width:0.5px">c</text><text id="nat" transform="translate(69.5,518) scale(1,1.12)" style="font-family:'Liberation Serif',serif;font-weight:bold;font-size:33px;fill:#ababab;stroke:#ababab;stroke-width:0.7px;letter-spacing:0.55px">nature</text></g>
</svg></body></html>
